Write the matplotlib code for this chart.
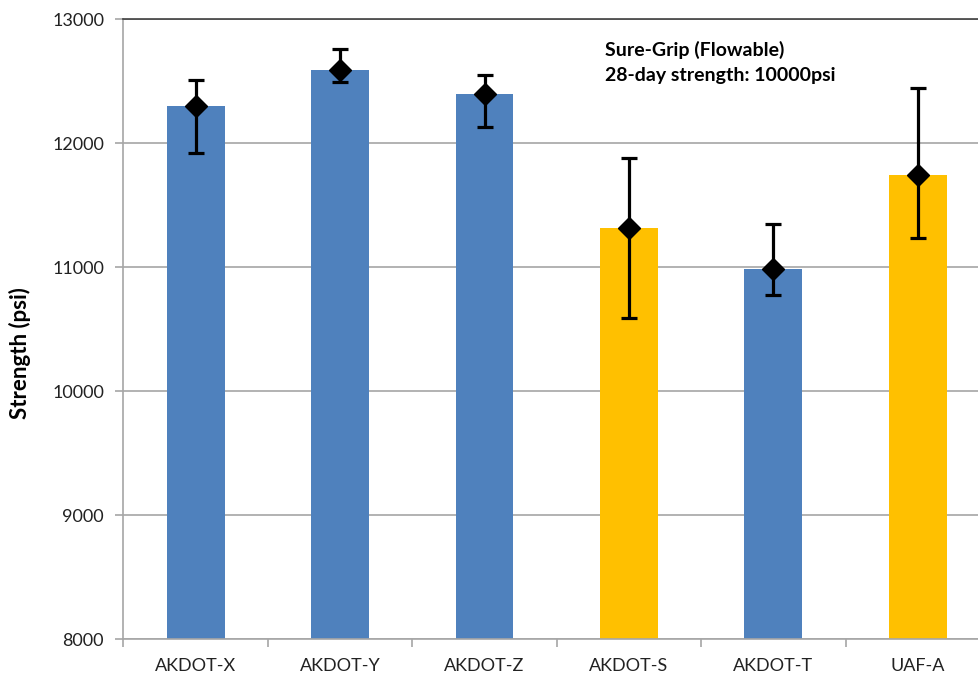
import matplotlib
matplotlib.use('Agg')
import matplotlib.pyplot as plt
import numpy as np

plt.rcParams['font.family'] = ['Lato', 'DejaVu Sans']

categories = ["AKDOT-X", "AKDOT-Y", "AKDOT-Z", "AKDOT-S", "AKDOT-T", "UAF-A"]
strength = [12298, 12588, 12398, 11317, 10984, 11742]
err_high = [12508, 12760, 12550, 11882, 11347, 12440]
err_low = [11921, 12494, 12131, 10586, 10774, 11237]
bar_colors = ["#4F81BD", "#4F81BD", "#4F81BD", "#FFC000", "#4F81BD", "#FFC000"]

GRID = "#A6A6A6"
TEXT = "#222222"

fig = plt.figure(figsize=(9.79, 6.77), dpi=100)
ax = fig.add_axes([123.5 / 979, 1 - 639 / 677, (979 - 123.5) / 979, (639 - 19) / 677])

x = np.arange(len(categories))
ax.bar(x, strength, width=0.40, color=bar_colors, zorder=2)

yerr = [np.array(strength) - np.array(err_low), np.array(err_high) - np.array(strength)]
ax.errorbar(x, strength, yerr=yerr, fmt='D', color='black', markersize=11,
            elinewidth=2.3, capsize=6, capthick=2.3, zorder=3)

ax.set_yticks(range(8000, 13001, 1000))
ax.set_xticks(x)
ax.set_xticklabels(categories)
ax.set_xticks(np.arange(-0.5, 5.0, 1), minor=True)
ax.set_ylim(8000, 13000)
ax.set_xlim(-0.5, -0.5 + (979 - 123.5) / 144.4)

ax.tick_params(axis='x', which='major', length=0, pad=14, labelsize=13, colors=TEXT)
ax.tick_params(axis='x', which='minor', length=6, color=GRID, width=1.2)
ax.tick_params(axis='y', length=6, color=GRID, width=1.2, pad=8, labelsize=13, labelcolor=TEXT)

ax.yaxis.grid(True, color=GRID, linewidth=1.2, zorder=0)
ax.set_axisbelow(True)
ax.spines['right'].set_visible(False)
ax.spines['top'].set_color('#404040')
ax.spines['top'].set_linewidth(1.2)
for side in ['left', 'bottom']:
    ax.spines[side].set_color(GRID)
    ax.spines[side].set_linewidth(1.2)

yl = ax.set_ylabel("Strength (psi)", fontsize=16, fontweight='bold')
ax.yaxis.set_label_coords((20 - 123.5) / 855.5, (639 - 353) / 620)
yl.set_verticalalignment('center')

fig.text(605 / 979, 1 - 50 / 677, "Sure-Grip (Flowable)", fontsize=14, fontweight='bold',
         ha='left', va='center')
fig.text(605 / 979, 1 - 76 / 677, "28-day strength: 10000psi", fontsize=14, fontweight='bold',
         ha='left', va='center')

fig.savefig("out.png", dpi=100)
